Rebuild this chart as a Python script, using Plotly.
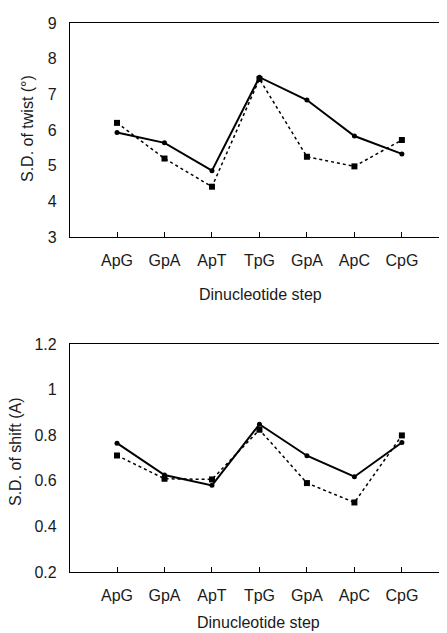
import plotly.graph_objects as go
from plotly.subplots import make_subplots

steps = ["ApG", "GpA", "ApT", "TpG", "GpA", "ApC", "CpG"]
xpos = list(range(len(steps)))

twist_solid = [5.93, 5.64, 4.86, 7.48, 6.84, 5.83, 5.33]
twist_dotted = [6.20, 5.20, 4.41, 7.43, 5.25, 4.98, 5.72]

shift_solid = [0.765, 0.625, 0.580, 0.848, 0.710, 0.618, 0.768]
shift_dotted = [0.711, 0.609, 0.606, 0.824, 0.590, 0.505, 0.799]

twist_ticks = [3, 4, 5, 6, 7, 8, 9]
shift_ticks = [0.2, 0.4, 0.6, 0.8, 1.0, 1.2]

FONT = "Liberation Sans, Arial, sans-serif"
TXT = "#1a1a1a"

# page body has an 8px margin; figure is sized to fit the window
OFF = 8
W, H = 447 - OFF, 633 - OFF
L = 70 - OFF
PW = W - L

def py(y):  # page pixel y -> paper fraction
    return 1 - (y - OFF) / H

def px(x):  # page pixel x -> paper fraction of plot area
    return (x - OFF - L) / PW

fig = make_subplots(rows=2, cols=1)

def add_pair(solid, dotted, row):
    fig.add_trace(go.Scatter(
        x=xpos, y=dotted, mode="lines+markers",
        line=dict(color="black", width=1.5, dash="dot"),
        marker=dict(symbol="square", size=6, color="black"),
        showlegend=False), row=row, col=1)
    fig.add_trace(go.Scatter(
        x=xpos, y=solid, mode="lines+markers",
        line=dict(color="black", width=2),
        marker=dict(symbol="circle", size=5, color="black"),
        showlegend=False), row=row, col=1)

add_pair(twist_solid, twist_dotted, 1)
add_pair(shift_solid, shift_dotted, 2)

xcommon = dict(range=[-0.99, 6.95], tickmode="array", tickvals=xpos, ticktext=steps,
               showline=True, mirror=True, linecolor="black", linewidth=1.2,
               ticks="inside", ticklen=5, tickcolor="black", tickwidth=1,
               showgrid=False, zeroline=False, ticklabelstandoff=9, automargin=False,
               tickfont=dict(family=FONT, size=16, color=TXT))
ycommon = dict(showline=True, mirror=False, linecolor="black", linewidth=1.2,
               ticks="", showgrid=False, zeroline=False, ticklabelstandoff=9, automargin=False,
               tickfont=dict(family=FONT, size=16, color=TXT))

fig.update_xaxes(**xcommon)
fig.update_yaxes(**ycommon)
fig.update_yaxes(range=[3, 9], tickvals=twist_ticks, domain=[py(237), py(23)], row=1, col=1)
fig.update_yaxes(range=[0.2, 1.2], tickvals=shift_ticks, domain=[py(572), py(344)], row=2, col=1)

ann = dict(xref="paper", yref="paper", showarrow=False, xanchor="center", yanchor="middle",
           font=dict(family=FONT, size=16, color=TXT))
fig.update_layout(
    width=W, height=H,
    margin=dict(l=L, r=0, t=0, b=0, autoexpand=False),
    paper_bgcolor="white", plot_bgcolor="white",
    annotations=[
        dict(text="Dinucleotide step", x=px(260), y=py(294), **ann),
        dict(text="Dinucleotide step", x=px(258), y=py(622), **ann),
        dict(text="S.D. of twist (°)", x=px(27), y=py(129), textangle=-90, **ann),
        dict(text="S.D. of shift (A)", x=px(15), y=py(452), textangle=-90, **ann),
    ],
)

fig.write_html("out.html")
